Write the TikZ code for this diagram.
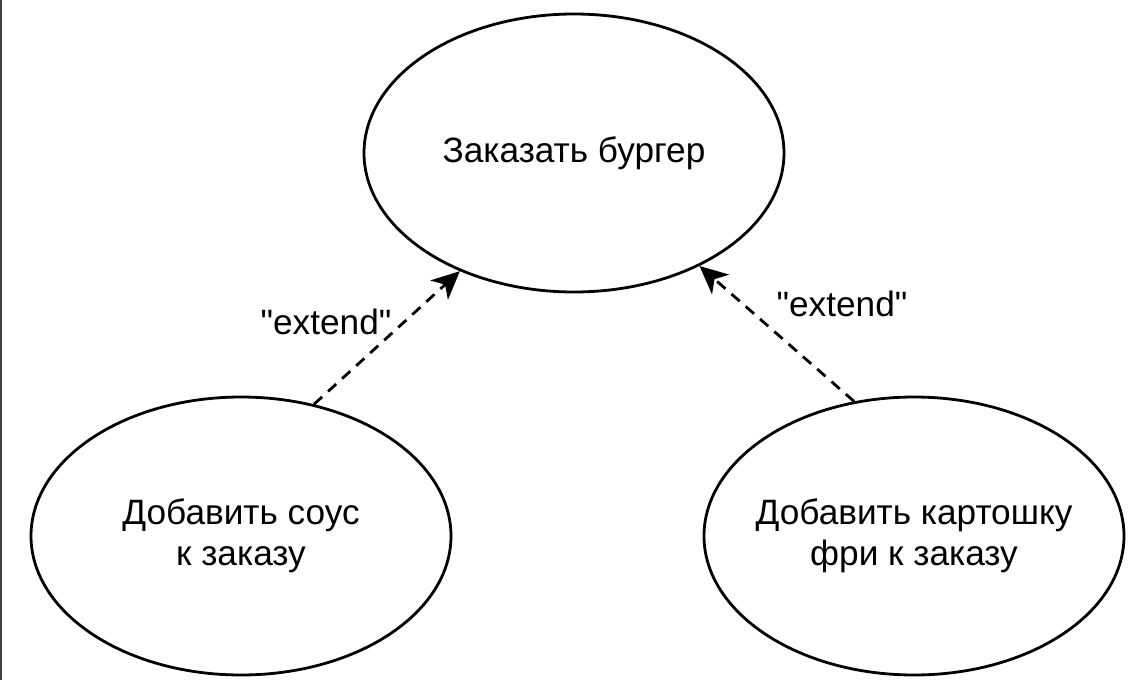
\documentclass[tikz,border=0pt]{standalone}
\usepackage{fontspec}
\setmainfont{Liberation Sans}[Ligatures=TeXOff]
\usetikzlibrary{shapes.geometric,arrows.meta}

\tikzset{
  usecase/.style={draw, ellipse, line width=1.4pt, minimum width=210pt, minimum height=139pt,
    inner xsep=-50pt, inner ysep=0pt, align=center, font=\fontsize{17.6}{20.5}\selectfont},
  extendarrow/.style={line width=1.4pt, dash pattern=on 5.5pt off 4pt,
    -{Stealth[length=14pt,width=13pt,inset=4pt]}},
  stereo/.style={font=\fontsize{17.6}{20}\selectfont}
}

\begin{document}
\begin{tikzpicture}[x=0.5pt,y=-0.5pt]
    \useasboundingbox (0,0) rectangle (1136,680);
    \fill[white] (0,0) rectangle (1136,680);
    \draw[line width=1pt, black!75] (1,0) -- (1,680);
    % use cases
    \node[usecase] (burger) at (574,153) {Заказать бургер};
    \node[usecase] (sauce)  at (241,536) {Добавить соус\\к заказу};
    \node[usecase] (fries)  at (914,536) {Добавить картошку\\фри к заказу};
    % extends
    \draw[extendarrow] (sauce.61.6) -- (burger.226.9);
    \draw[extendarrow] (fries.114.9) -- (burger.318.8);
    \node[stereo] (extL) at (326,322) {"extend"};
    \node[stereo] (extR) at (842,304) {"extend"};
\end{tikzpicture}
\end{document}
